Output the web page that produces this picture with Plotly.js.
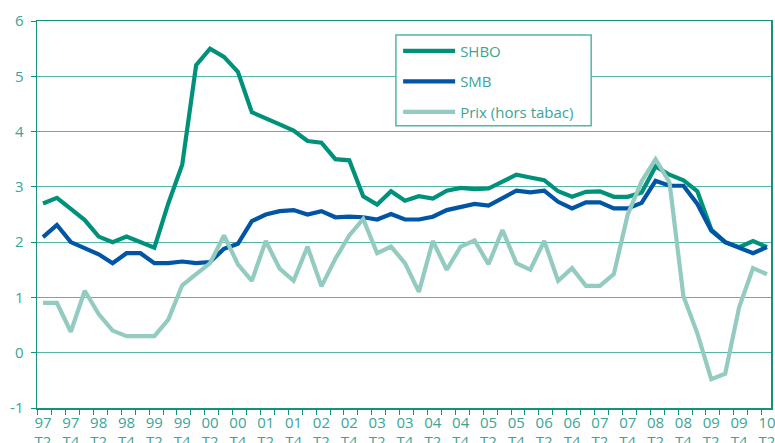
<!DOCTYPE html>
<html>
<head>
<meta charset="utf-8">
<script src="https://cdn.plot.ly/plotly-3.0.1.min.js"></script>
<style>
  html, body { margin: 0; padding: 0; background: #ffffff; }
  #chart { width: 775px; height: 443px; }
</style>
</head>
<body>
<div id="chart"></div>
<script>
// Quarters 97 T2 ... 10 T2 (53 quarterly observations)
const years = ["97","98","99","00","01","02","03","04","05","06","07","08","09","10"];
const quarters = [];
for (const y of years) {
  for (const q of ["T1","T2","T3","T4"]) {
    if (y === "97" && q === "T1") continue;
    if (y === "10" && (q === "T3" || q === "T4")) continue;
    quarters.push(y + " " + q);
  }
}

const shbo = [2.7, 2.8, 2.6, 2.4, 2.1, 2.0, 2.1, 2.0, 1.9, 2.7,
              3.4, 5.2, 5.5, 5.35, 5.08, 4.35, 4.23, 4.13, 4.02, 3.83,
              3.8, 3.5, 3.48, 2.83, 2.68, 2.92, 2.75, 2.83, 2.79, 2.93,
              2.98, 2.96, 2.97, 3.1, 3.22, 3.17, 3.12, 2.92, 2.82, 2.91,
              2.92, 2.82, 2.82, 2.9, 3.37, 3.22, 3.12, 2.92, 2.23, 2.0,
              1.91, 2.02, 1.91];

const smb = [2.09, 2.31, 2.0, 1.9, 1.78, 1.62, 1.8, 1.8, 1.62, 1.62,
             1.65, 1.62, 1.64, 1.88, 1.97, 2.38, 2.5, 2.56, 2.58, 2.5,
             2.56, 2.45, 2.46, 2.45, 2.41, 2.51, 2.41, 2.41, 2.46, 2.58,
             2.63, 2.69, 2.66, 2.8, 2.93, 2.9, 2.93, 2.73, 2.61, 2.72,
             2.72, 2.61, 2.61, 2.71, 3.11, 3.02, 3.02, 2.69, 2.21, 2.0,
             1.89, 1.8, 1.91];

const prix = [0.9, 0.9, 0.38, 1.12, 0.7, 0.4, 0.3, 0.3, 0.3, 0.6,
              1.22, 1.42, 1.62, 2.12, 1.6, 1.3, 2.02, 1.52, 1.3, 1.92,
              1.2, 1.7, 2.12, 2.42, 1.8, 1.92, 1.62, 1.1, 2.02, 1.5,
              1.92, 2.03, 1.6, 2.22, 1.62, 1.5, 2.02, 1.3, 1.53, 1.21,
              1.21, 1.42, 2.5, 3.1, 3.5, 3.08, 1.02, 0.35, -0.48, -0.38,
              0.82, 1.53, 1.42];

const seriesNames = ["SHBO", "SMB", "Prix (hors tabac)"];
const yTicks = [-1, 0, 1, 2, 3, 4, 5, 6];

const idx = quarters.map((_, i) => i);
const tickVals = [];
const tickText = [];
quarters.forEach((q, i) => {
  if (i % 2 === 0) {
    const parts = q.split(" ");
    tickVals.push(i);
    tickText.push(parts[0] + "<br>" + parts[1]);
  }
});

const TEAL_TXT = "#3aa596";
const AXIS = "#14907c";
const GRID = "#55b5a6";
const FONT = "Open Sans, Noto Sans, sans-serif";

const colors = ["#00917a", "#0055a4", "#93cbc0"];
const data = [shbo, smb, prix].map((v, k) => ({
  type: "scatter",
  mode: "lines",
  x: idx,
  y: v,
  name: seriesNames[k],
  legendgroup: "g" + k,
  line: { color: colors[k], width: 4.2, shape: "linear" }
}));

const layout = {
  width: 775,
  height: 443,
  margin: { l: 37, r: 4, t: 21, b: 35 },
  paper_bgcolor: "#ffffff",
  plot_bgcolor: "#ffffff",
  font: { family: FONT, size: 15, color: TEAL_TXT },
  showlegend: true,
  legend: {
    x: 0.492, y: 0.965, xanchor: "left", yanchor: "top",
    bgcolor: "rgba(0,0,0,0)",
    borderwidth: 0,
    font: { family: FONT, size: 15, color: TEAL_TXT },
    tracegroupgap: 8,
    itemwidth: 52
  },
  shapes: [{
    type: "rect", xref: "paper", yref: "paper",
    x0: 0.489, x1: 0.755, y0: 0.7295, y1: 0.964,
    fillcolor: "#ffffff",
    line: { color: GRID, width: 1.5 },
    layer: "above"
  }],
  xaxis: {
    range: [-0.43, 52.29],
    tickmode: "array",
    tickvals: tickVals,
    ticktext: tickText,
    ticks: "",
    ticklabelstandoff: 0,
    ticklabeloverflow: "allow",
    showgrid: false,
    zeroline: false,
    showline: true,
    linecolor: AXIS,
    linewidth: 1.5,
    mirror: true,
    tickfont: { family: FONT, size: 15, color: TEAL_TXT },
    minor: {
      tickmode: "linear",
      tick0: -0.38,
      dtick: 1,
      ticks: "outside",
      ticklen: 5,
      tickcolor: AXIS,
      tickwidth: 1,
      showgrid: false
    }
  },
  yaxis: {
    range: [-1, 6],
    tickmode: "array",
    tickvals: yTicks,
    ticktext: yTicks.map(String),
    ticks: "outside",
    ticklen: 5,
    tickcolor: AXIS,
    ticklabelstandoff: 4,
    showgrid: true,
    gridcolor: GRID,
    gridwidth: 1,
    zeroline: false,
    showline: true,
    linecolor: AXIS,
    linewidth: 1.5,
    mirror: true,
    tickfont: { family: FONT, size: 15, color: TEAL_TXT }
  }
};

Plotly.newPlot("chart", data, layout, { displayModeBar: false, staticPlot: true });
</script>
</body>
</html>
